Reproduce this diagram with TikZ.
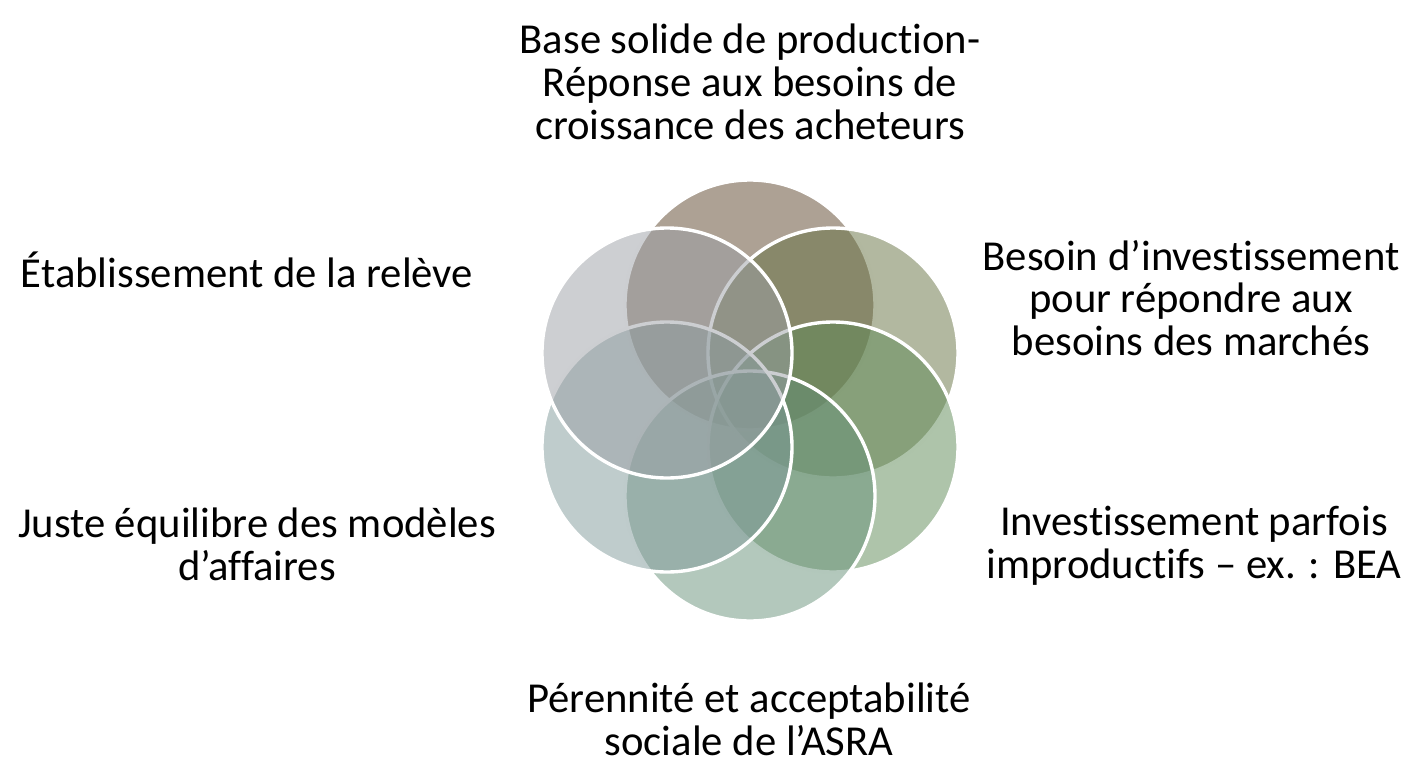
\documentclass[tikz,border=0pt]{standalone}
\usepackage{fontspec}
\setmainfont[Ligatures={NoCommon}]{Carlito}
\definecolor{cTop}{RGB}{91,67,41}
\definecolor{cUR}{RGB}{101,113,65}
\definecolor{cLR}{RGB}{93,137,85}
\definecolor{cBot}{RGB}{103,145,121}
\definecolor{cLL}{RGB}{127,153,153}
\definecolor{cUL}{RGB}{155,159,165}
\tikzset{
  venn/.style={circle, minimum size=250*0.75pt, inner sep=0pt, draw=white, line width=3.4*0.75pt, fill opacity=0.5, draw opacity=1},
  lbl/.style={align=center, font=\fontsize{32}{32}\selectfont, text=black, inner sep=0pt}
}
\begin{document}
\begin{tikzpicture}[x=0.75pt,y=-0.75pt]
\useasboundingbox (0,0) rectangle (1422,765);
\node[venn, fill=cTop] (c1) at (750,305) {};
\node[venn, fill=cUR]  (c2) at (833,353) {};
\node[venn, fill=cLR]  (c3) at (833,447) {};
\node[venn, fill=cBot] (c4) at (750,496) {};
\node[venn, fill=cLL]  (c5) at (667,447) {};
\node[venn, fill=cUL]  (c6) at (667,353) {};
\node[lbl] (t1) at (750,82) {Base solide de production-\\Réponse aux besoins de\\croissance des acheteurs};
\node[lbl] (t2) at (1191,298) {Besoin d’investissement\\pour répondre aux\\besoins des marchés};
\node[lbl] (t3) at (1194,546) {Investissement parfois\\improductifs – ex. : BEA};
\node[lbl] (t4) at (749,719) {Pérennité et acceptabilité\\sociale de l’ASRA};
\node[lbl] (t5) at (257,544) {Juste équilibre des modèles\\d’affaires};
\node[lbl] (t6) at (247,270) {Établissement de la relève};
\end{tikzpicture}
\end{document}
